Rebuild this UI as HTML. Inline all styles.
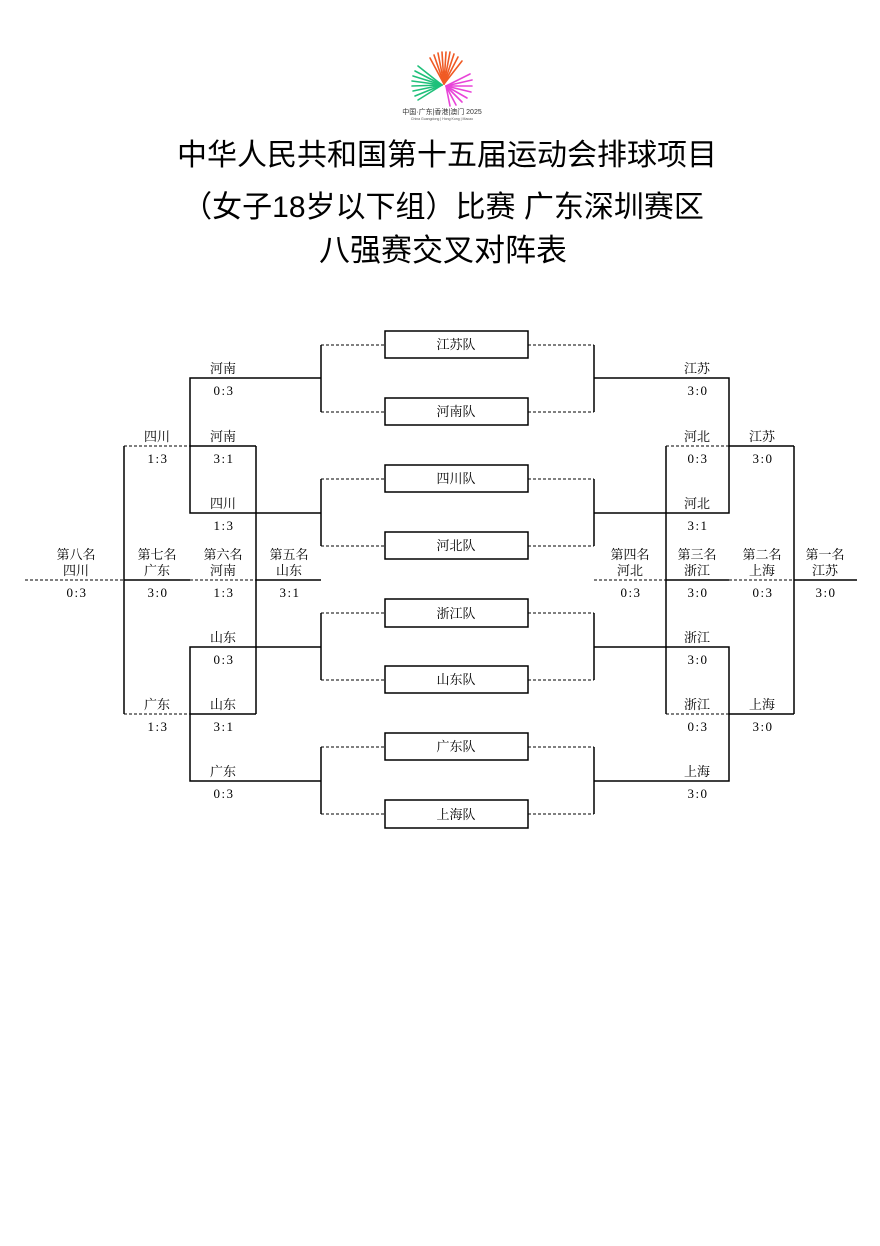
<!DOCTYPE html>
<html><head><meta charset="utf-8"><style>
html,body{margin:0;padding:0;background:#fff;}
svg{display:block;}
.t{font-family:"Liberation Sans","Noto Sans CJK SC",sans-serif;font-size:30px;fill:#000;text-anchor:middle;}
.l{font-family:"Liberation Serif","Noto Serif CJK SC",serif;font-size:13px;fill:#000;text-anchor:middle;}
.n{letter-spacing:1.5px;}
.s{stroke:#000;stroke-width:1.5;fill:none;}
.d{stroke:#000;stroke-width:1;stroke-dasharray:3,2;fill:none;}
</style></head><body>
<svg width="880" height="1246" viewBox="0 0 880 1246" xmlns="http://www.w3.org/2000/svg">
<g stroke-width="1.6" stroke-linecap="round">
<g stroke="#f05a24">
<line x1="444" y1="84" x2="430" y2="58"/><line x1="444" y1="84" x2="434" y2="55"/><line x1="444" y1="84" x2="438" y2="53"/><line x1="444" y1="84" x2="442" y2="52"/><line x1="444" y1="84" x2="446" y2="52"/><line x1="444" y1="84" x2="450" y2="52"/><line x1="444" y1="84" x2="454" y2="54"/><line x1="444" y1="84" x2="458" y2="57"/><line x1="444" y1="84" x2="462" y2="61"/>
</g>
<g stroke="#1fc07a">
<line x1="442" y1="85" x2="418" y2="66"/><line x1="442" y1="85" x2="415" y2="71"/><line x1="442" y1="85" x2="413" y2="76"/><line x1="442" y1="85" x2="412" y2="81"/><line x1="442" y1="85" x2="412" y2="86"/><line x1="442" y1="85" x2="413" y2="91"/><line x1="442" y1="85" x2="415" y2="96"/><line x1="442" y1="85" x2="418" y2="100"/>
</g>
<g stroke="#e845d8">
<line x1="446" y1="86" x2="470" y2="74"/><line x1="446" y1="86" x2="472" y2="80"/><line x1="446" y1="86" x2="472" y2="86"/><line x1="446" y1="86" x2="471" y2="92"/><line x1="446" y1="86" x2="467" y2="98"/><line x1="446" y1="86" x2="462" y2="102"/><line x1="446" y1="86" x2="456" y2="105"/><line x1="446" y1="86" x2="450" y2="106"/>
</g>
</g>
<text x="442" y="114" font-family="Liberation Sans,Noto Sans CJK SC,sans-serif" font-size="7" text-anchor="middle" fill="#333">中国·广东|香港|澳门 2025</text>
<text x="442" y="120" font-family="Liberation Sans,sans-serif" font-size="3.5" text-anchor="middle" fill="#555">China Guangdong | Hong Kong | Macao</text>

<text class="t" x="447" y="165">中华人民共和国第十五届运动会排球项目</text>
<text class="t" x="443" y="217">（女子18岁以下组）比赛 广东深圳赛区</text>
<text class="t" x="443" y="261" style="font-size:31px">八强赛交叉对阵表</text>

<g fill="#fff" stroke="#000" stroke-width="1.5">
<rect x="385" y="331" width="143" height="27"/><rect x="385" y="398" width="143" height="27"/>
<rect x="385" y="465" width="143" height="27"/><rect x="385" y="532" width="143" height="27"/>
<rect x="385" y="599" width="143" height="28"/><rect x="385" y="666" width="143" height="27"/>
<rect x="385" y="733" width="143" height="27"/><rect x="385" y="800" width="143" height="28"/>
</g>
<g class="l">
<text x="456" y="349">江苏队</text><text x="456" y="416">河南队</text>
<text x="456" y="483">四川队</text><text x="456" y="550">河北队</text>
<text x="456" y="618">浙江队</text><text x="456" y="684">山东队</text>
<text x="456" y="751">广东队</text><text x="456" y="819">上海队</text>
</g>

<g class="d">
<path d="M321 345H385M321 412H385M321 479H385M321 546H385M321 613H385M321 680H385M321 747H385M321 814H385"/>
<path d="M528 345H594M528 412H594M528 479H594M528 546H594M528 613H594M528 680H594M528 747H594M528 814H594"/>
<path d="M124 446H190M124 714H190M666 446H729M666 714H729"/>
<path d="M25 580H124M190 580H256M594 580H666M729 580H794"/>
</g>
<g class="s">
<path d="M321 345V412M321 479V546M321 613V680M321 747V814"/>
<path d="M594 345V412M594 479V546M594 613V680M594 747V814"/>
<path d="M321 378H190V513H321M321 647H190V781H321"/>
<path d="M594 378H729V513H594M594 647H729V781H594"/>
<path d="M190 446H256M124 446V714M256 446V714M190 714H256"/>
<path d="M729 446H794M666 446V714M794 446V714M729 714H794"/>
<path d="M124 580H190M256 580H321M666 580H729M794 580H857"/>
</g>

<g class="l">
<text x="223" y="373">河南</text><text class="n" x="224" y="395">0:3</text>
<text x="157" y="441">四川</text><text class="n" x="158" y="463">1:3</text>
<text x="223" y="441">河南</text><text class="n" x="224" y="463">3:1</text>
<text x="223" y="508">四川</text><text class="n" x="224" y="530">1:3</text>
<text x="76" y="559">第八名</text><text x="76" y="575">四川</text><text class="n" x="77" y="597">0:3</text>
<text x="157" y="559">第七名</text><text x="157" y="575">广东</text><text class="n" x="158" y="597">3:0</text>
<text x="223" y="559">第六名</text><text x="223" y="575">河南</text><text class="n" x="224" y="597">1:3</text>
<text x="289" y="559">第五名</text><text x="289" y="575">山东</text><text class="n" x="290" y="597">3:1</text>
<text x="223" y="642">山东</text><text class="n" x="224" y="664">0:3</text>
<text x="157" y="709">广东</text><text class="n" x="158" y="731">1:3</text>
<text x="223" y="709">山东</text><text class="n" x="224" y="731">3:1</text>
<text x="223" y="776">广东</text><text class="n" x="224" y="798">0:3</text>
<text x="697" y="373">江苏</text><text class="n" x="698" y="395">3:0</text>
<text x="697" y="441">河北</text><text class="n" x="698" y="463">0:3</text>
<text x="762" y="441">江苏</text><text class="n" x="763" y="463">3:0</text>
<text x="697" y="508">河北</text><text class="n" x="698" y="530">3:1</text>
<text x="630" y="559">第四名</text><text x="630" y="575">河北</text><text class="n" x="631" y="597">0:3</text>
<text x="697" y="559">第三名</text><text x="697" y="575">浙江</text><text class="n" x="698" y="597">3:0</text>
<text x="762" y="559">第二名</text><text x="762" y="575">上海</text><text class="n" x="763" y="597">0:3</text>
<text x="825" y="559">第一名</text><text x="825" y="575">江苏</text><text class="n" x="826" y="597">3:0</text>
<text x="697" y="642">浙江</text><text class="n" x="698" y="664">3:0</text>
<text x="697" y="709">浙江</text><text class="n" x="698" y="731">0:3</text>
<text x="762" y="709">上海</text><text class="n" x="763" y="731">3:0</text>
<text x="697" y="776">上海</text><text class="n" x="698" y="798">3:0</text>
</g>
</svg>
</body></html>
